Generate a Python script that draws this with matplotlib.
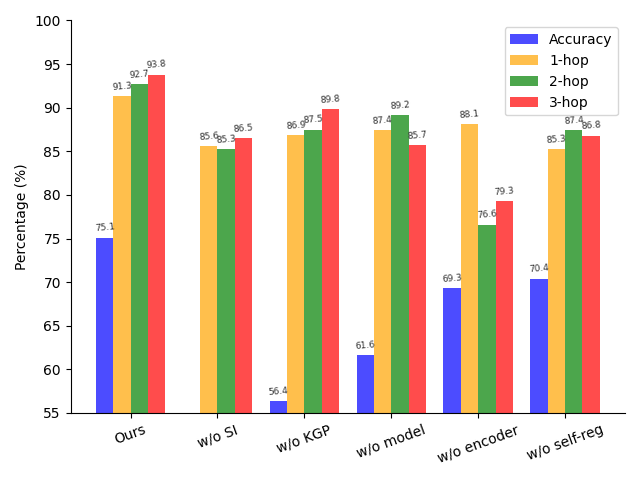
import numpy as np
import matplotlib.pyplot as plt

# Ablation results (percent). The w/o SI accuracy falls below the axis floor.
variants = ["Ours", "w/o SI", "w/o KGP", "w/o model", "w/o encoder", "w/o self-reg"]
accuracy = [75.1, 50.2, 56.4, 61.6, 69.3, 70.4]
hop1 = [91.3, 85.6, 86.9, 87.4, 88.1, 85.3]
hop2 = [92.7, 85.3, 87.5, 89.2, 76.6, 87.4]
hop3 = [93.8, 86.5, 89.8, 85.7, 79.3, 86.8]

series = [("Accuracy", accuracy, "blue"),
          ("1-hop", hop1, "orange"),
          ("2-hop", hop2, "green"),
          ("3-hop", hop3, "red")]

x = np.arange(len(variants))
width = 0.2

fig, ax = plt.subplots(figsize=(6.4, 4.8), dpi=100)

for i, (name, vals, color) in enumerate(series):
    bars = ax.bar(x + (i - 1.5) * width, vals, width, label=name,
                  color=color, alpha=0.7)
    for b in bars:
        h = b.get_height()
        # annotate is skipped automatically when the point is outside the axes
        ax.annotate(f"{h}", xy=(b.get_x() + b.get_width() / 2, h),
                    xytext=(0, 3), textcoords="offset points",
                    ha="center", va="bottom", fontsize=6.5, color="#333333",
                    rotation=5)

ax.set_ylim(55, 100)
ax.set_ylabel("Percentage (%)")
ax.set_xticks(x)
ax.set_xticklabels(variants, rotation=20)
ax.spines["top"].set_visible(False)
ax.spines["right"].set_visible(False)
ax.legend(loc="upper right")

plt.tight_layout()
plt.savefig("out.png")
